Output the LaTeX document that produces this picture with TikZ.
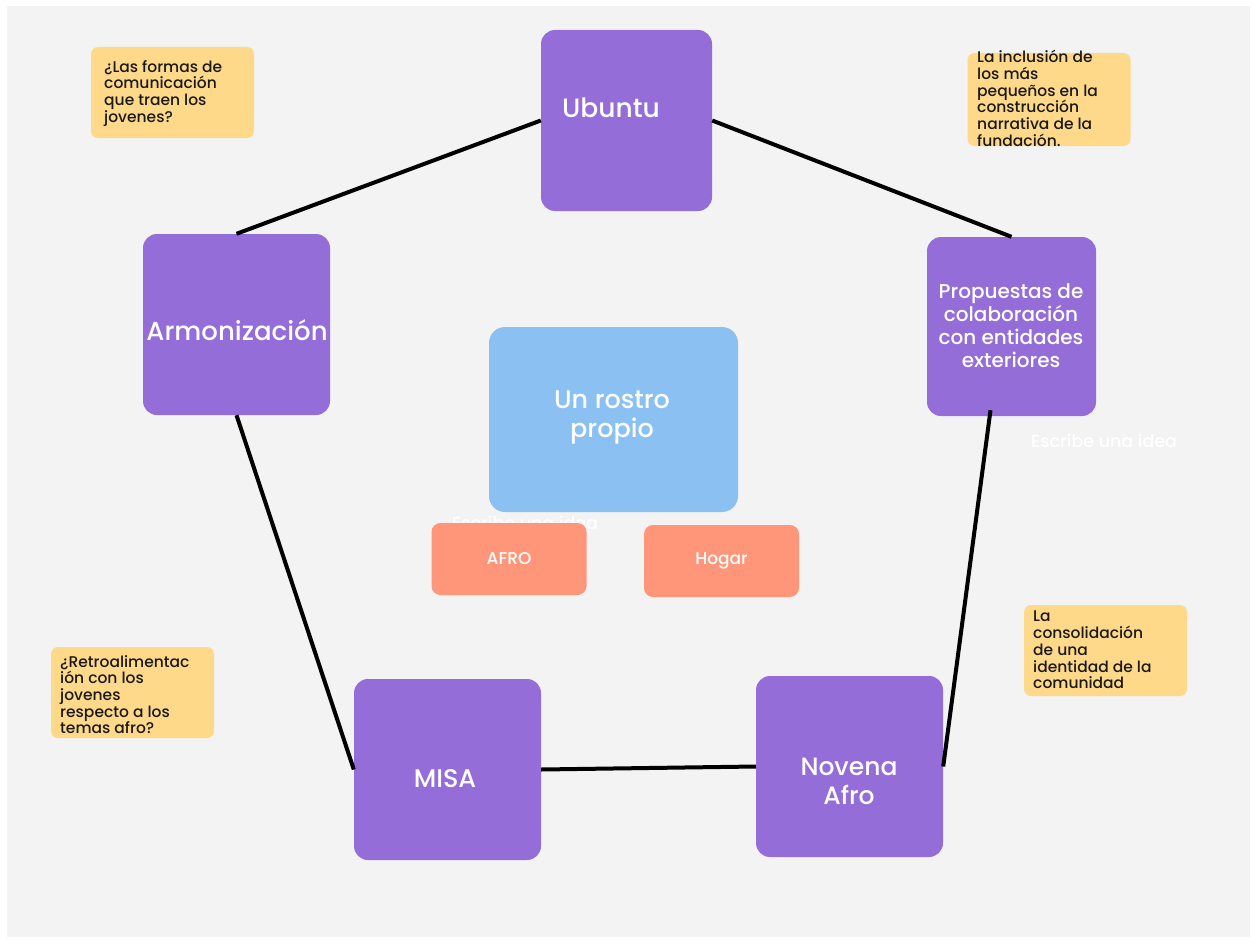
\documentclass[tikz,border=0pt]{standalone}
\usepackage{fontspec}
\setmainfont{Poppins}[UprightFont=* Medium, BoldFont=* SemiBold]
\usetikzlibrary{calc}
\definecolor{bgc}{HTML}{F3F3F3}
\definecolor{purp}{HTML}{946DD9}
\definecolor{skyb}{HTML}{8BC0F3}
\definecolor{salm}{HTML}{FF967A}
\definecolor{sticky}{HTML}{FFD98A}
\tikzset{
  bigbox/.style={fill=purp, draw=none, rounded corners=14pt, inner sep=0pt},
  boxlabel/.style={text=white, align=center, inner sep=0pt},
  centerbox/.style={fill=skyb, draw=none, rounded corners=16pt, inner sep=0pt,
    minimum width=249pt, minimum height=185pt},
  tagbox/.style={fill=salm, draw=none, rounded corners=9pt, text=white, align=center, inner sep=0pt,
    minimum width=155pt, minimum height=72pt, font=\fontsize{17}{19}\selectfont},
  notebox/.style={fill=sticky, draw=none, rounded corners=7pt, minimum width=163pt, minimum height=91pt, inner sep=0pt},
  notetext/.style={anchor=north west, align=left, inner sep=0pt, text=black!90,
    font=\fontsize{15.5}{16.7}\selectfont},
  link/.style={line width=4pt, black},
  ghost/.style={text=white, font=\fontsize{17.5}{19}\selectfont, inner sep=0pt}
}
\begin{document}
\begin{tikzpicture}[x=1pt, y=-1pt]
\useasboundingbox (0,0) rectangle (1252,939);
\fill[white] (0,0) rectangle (1252,939);
\fill[bgc] (7,6) rectangle (1250,937);

% sticky notes
\node[notebox] (n1) at (172.5,92.5) {};
\node[notetext] (t1) at (104,60) {¿Las formas de\\comunicación\\que traen los\\jovenes?};
\node[notebox, minimum height=93pt] (n2) at (1049,99.5) {};
\node[notetext] (t2) at (977,50) {La inclusión de\\los más\\pequeños en la\\construcción\\narrativa de la\\fundación.};
\node[notebox] (n3) at (1105.5,650.5) {};
\node[notetext] (t3) at (1033,611) {La\\consolidación\\de una\\identidad de la\\comunidad};
\node[notebox] (n4) at (132.5,692.5) {};
\node[notetext] (t4) at (60,655) {¿Retroalimentac\\ión con los\\jovenes\\respecto a los\\temas afro?};

% faint placeholder texts
\node[ghost, anchor=west] (g1) at (1031,441) {Escribe una idea};
\node[ghost, anchor=west] (g2) at (452,523) {Escribe una idea};

% main boxes
\node[bigbox, minimum width=171pt, minimum height=181pt] (ubu) at (626.5,120.5) {};
\node[boxlabel, font=\fontsize{26.5}{30}\selectfont] (ubut) at (611,108) {Ubuntu};
\node[bigbox, minimum width=187pt, minimum height=181pt] (arm) at (236.5,324.5) {};
\node[boxlabel, font=\fontsize{26}{30}\selectfont] (armt) at (237,330) {Armonización};
\node[bigbox, minimum width=169pt, minimum height=179pt] (prop) at (1011.5,326.5) {};
\node[boxlabel, font=\fontsize{20}{23}\selectfont] (propt) at (1011,326) {Propuestas de\\colaboración\\con entidades\\exteriores};
\node[bigbox, minimum width=187pt, minimum height=181pt] (misa) at (447.5,769.5) {};
\node[boxlabel, font=\fontsize{25.5}{30}\selectfont] (misat) at (445,779) {MISA};
\node[bigbox, minimum width=187pt, minimum height=181pt] (nov) at (849.5,766.5) {};
\node[boxlabel, font=\fontsize{25}{29}\selectfont] (novt) at (849,781.5) {Novena\\Afro};

% centre
\node[centerbox] (cen) at (613.5,419.5) {};
\node[boxlabel, font=\fontsize{25.5}{29}\selectfont] (cent) at (612,417.5) {Un rostro\\propio};
\node[tagbox] (afro) at (509,559) {AFRO};
\node[tagbox] (hog) at (721.5,561) {Hogar};

% connectors
\draw[link] (ubu.west) -- (arm.north);
\draw[link] (ubu.east) -- (prop.north);
\draw[link] (arm.south) -- (misa.west);
\draw[link] (misa.east) -- (nov.west);
\draw[link] (nov.east) -- ([xshift=-21pt, yshift=6pt]prop.south);
\end{tikzpicture}
\end{document}
